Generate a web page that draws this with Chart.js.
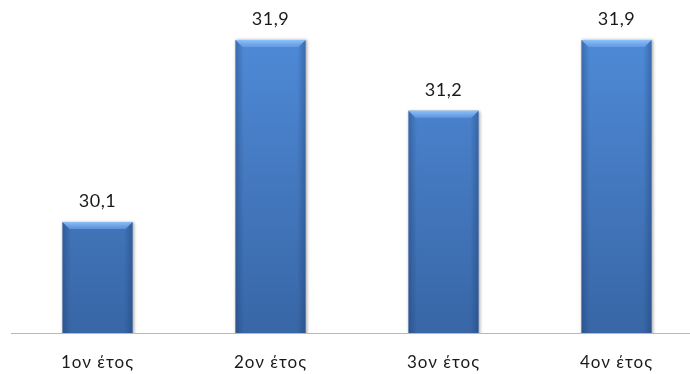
<!DOCTYPE html>
<html>
<head>
<meta charset="utf-8">
<script src="https://cdn.jsdelivr.net/npm/chart.js@4.4.1/dist/chart.umd.min.js"></script>
<style>
  html, body { margin: 0; padding: 0; background: #fff; overflow: hidden; }
  #wrap { width: 704px; height: 374px; position: relative; }
</style>
</head>
<body>
<div id="wrap"><canvas id="c" width="704" height="374"></canvas></div>
<script>
const categories = ['1ον έτος', '2ον έτος', '3ον έτος', '4ον έτος'];
const values = [30.1, 31.9, 31.2, 31.9];
const valueLabels = ['30,1', '31,9', '31,2', '31,9'];
const yMin = 29;
const yMax = 32;

const barStyle = {
  id: 'barStyle',
  beforeDraw(chart) {
    chart.ctx.letterSpacing = '1px';
  },
  beforeDatasetsDraw(chart) {
    const ctx = chart.ctx;
    ctx.save();
    ctx.shadowColor = 'rgba(0,0,0,0.35)';
    ctx.shadowBlur = 3;
    ctx.shadowOffsetX = 1;
    ctx.shadowOffsetY = 0;
  },
  afterDatasetsDraw(chart) {
    const ctx = chart.ctx;
    ctx.restore();
    const meta = chart.getDatasetMeta(0);
    const ca = chart.chartArea;
    ctx.save();
    ctx.beginPath();
    ctx.rect(ca.left - 5, 0, ca.right - ca.left + 10, ca.bottom);
    ctx.clip();
    meta.data.forEach((bar, i) => {
      const w = bar.width;
      const l = bar.x - w / 2, r = bar.x + w / 2;
      const t = bar.y, b = Math.min(bar.base, ca.bottom);
      // side darkening
      const hg = ctx.createLinearGradient(l, 0, r, 0);
      hg.addColorStop(0, 'rgba(20,50,100,0.35)');
      hg.addColorStop(0.12, 'rgba(20,50,100,0.0)');
      hg.addColorStop(0.88, 'rgba(20,50,100,0.0)');
      hg.addColorStop(1, 'rgba(20,50,100,0.35)');
      ctx.fillStyle = hg;
      ctx.fillRect(l, t, w, b - t);
      // top bevel
      const bv = 7;
      ctx.beginPath();
      ctx.moveTo(l, t);
      ctx.lineTo(r, t);
      ctx.lineTo(r - bv, t + bv);
      ctx.lineTo(l + bv, t + bv);
      ctx.closePath();
      const vg = ctx.createLinearGradient(0, t, 0, t + bv);
      vg.addColorStop(0, 'rgba(150,200,255,0.9)');
      vg.addColorStop(1, 'rgba(110,165,235,0.6)');
      ctx.fillStyle = vg;
      ctx.fill();
      // value label
      ctx.letterSpacing = '0.5px';
      ctx.font = '18px Lato, "Open Sans", sans-serif';
      ctx.fillStyle = '#1a1a1a';
      ctx.textAlign = 'center';
      ctx.textBaseline = 'middle';
      ctx.fillText(valueLabels[i], bar.x, t - 21);
    });
    ctx.restore();
  }
};

new Chart(document.getElementById('c'), {
  type: 'bar',
  data: {
    labels: categories,
    datasets: [{
      data: values,
      backgroundColor: (context) => {
        const ca = context.chart.chartArea;
        if (!ca) return '#4a7ebb';
        const g = context.chart.ctx.createLinearGradient(0, ca.top, 0, ca.bottom);
        g.addColorStop(0, '#4f8bd8');
        g.addColorStop(1, '#3866a6');
        return g;
      },
      borderWidth: 0,
      categoryPercentage: 1.0,
      barPercentage: 0.405
    }]
  },
  options: {
    responsive: false,
    animation: false,
    devicePixelRatio: 1,
    layout: { padding: { left: 11, right: 1, top: 30, bottom: 0 } },
    plugins: {
      legend: { display: false },
      tooltip: { enabled: false }
    },
    scales: {
      x: {
        afterFit(scale) { scale.height = 41; },
        grid: { display: false, drawTicks: false },
        border: { display: true, color: '#b8b8b8', width: 1 },
        ticks: {
          padding: 19,
          color: '#1a1a1a',
          font: { family: 'Lato, "Open Sans", sans-serif', size: 17 }
        }
      },
      y: {
        display: false,
        min: yMin,
        max: yMax
      }
    }
  },
  plugins: [barStyle]
});
</script>
</body>
</html>
